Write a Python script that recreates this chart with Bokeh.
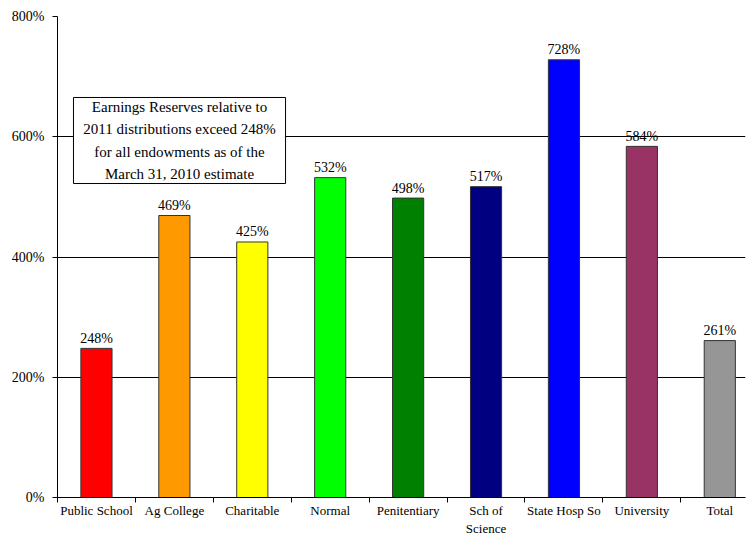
from bokeh.plotting import figure
from bokeh.models import FixedTicker, PrintfTickFormatter, Range1d, Label, BoxAnnotation, ColumnDataSource
from bokeh.core.properties import value
from bokeh.embed import file_html
from bokeh.resources import INLINE

categories = ["Public School", "Ag College", "Charitable", "Normal", "Penitentiary",
              "Sch of\nScience", "State Hosp So", "University", "Total"]
values = [248, 469, 425, 532, 498, 517, 728, 584, 261]
colors = ["#FF0000", "#FF9900", "#FFFF00", "#00FF00", "#008000",
          "#000080", "#0000FF", "#993366", "#969696"]
y_ticks = [0, 200, 400, 600, 800]
note = "Earnings Reserves relative to\n2011 distributions exceed 248%\nfor all endowments as of the\nMarch 31, 2010 estimate"

FONT = "Liberation Serif"
centers = [i + 0.5 for i in range(len(categories))]
bounds = list(range(len(categories) + 1))

src = ColumnDataSource(dict(x=centers, top=values, color=colors,
                            label=[f"{v}%" for v in values]))

p = figure(width=747, height=538, output_backend="svg", toolbar_location=None,
           x_range=Range1d(0, 8.83), y_range=Range1d(0, 800),
           min_border_left=57, min_border_right=2, min_border_top=16, min_border_bottom=41)
p.outline_line_color = None
p.background_fill_color = "white"

p.vbar(x="x", top="top", width=0.4, bottom=0, fill_color="color",
       line_color="#333333", line_width=1, source=src)
p.text(x="x", y="top", text="label", source=src, text_align="center",
       text_baseline="alphabetic", y_offset=-10, text_font=value(FONT),
       text_font_size="14px", text_color="black")

# grid
p.xgrid.grid_line_color = None
p.ygrid.ticker = FixedTicker(ticks=y_ticks)
p.ygrid.grid_line_color = "black"
p.ygrid.grid_line_width = 1

# y axis
p.yaxis.ticker = FixedTicker(ticks=y_ticks)
p.yaxis.formatter = PrintfTickFormatter(format="%d%%")
p.yaxis.major_tick_out = 5
p.yaxis.major_tick_in = 0
p.yaxis.minor_tick_out = 0
p.yaxis.minor_tick_in = 0
p.yaxis.major_label_standoff = 8
p.yaxis.major_label_text_font = FONT
p.yaxis.major_label_text_font_size = "14px"
p.yaxis.major_label_text_color = "black"
p.yaxis.axis_line_color = "black"
p.yaxis.major_tick_line_color = "black"

# x axis
p.xaxis.ticker = FixedTicker(ticks=centers, minor_ticks=bounds)
p.xaxis.major_label_overrides = {c: lab for c, lab in zip(centers, categories)}
p.xaxis.major_tick_out = 0
p.xaxis.major_tick_in = 0
p.xaxis.minor_tick_out = 5
p.xaxis.minor_tick_in = 0
p.xaxis.minor_tick_line_color = "black"
p.xaxis.major_label_standoff = 0
p.xaxis.major_label_text_font = FONT
p.xaxis.major_label_text_font_size = "13px"
p.xaxis.major_label_text_line_height = 1.2
p.xaxis.major_label_text_color = "black"
p.xaxis.axis_line_color = "black"

# annotation box
box = BoxAnnotation(left=0.205, right=2.927, bottom=522.2, top=665.3,
                    fill_color="white", fill_alpha=1.0, line_color="black",
                    line_width=1, line_alpha=1.0)
p.add_layout(box)
lab = Label(x=1.566, y=593.8, text=note, text_align="center", text_baseline="middle",
            text_font=FONT, text_font_size="15px", text_color="black",
            text_line_height=1.38)
p.add_layout(lab)

open("out.html", "w").write(file_html(p, INLINE))
